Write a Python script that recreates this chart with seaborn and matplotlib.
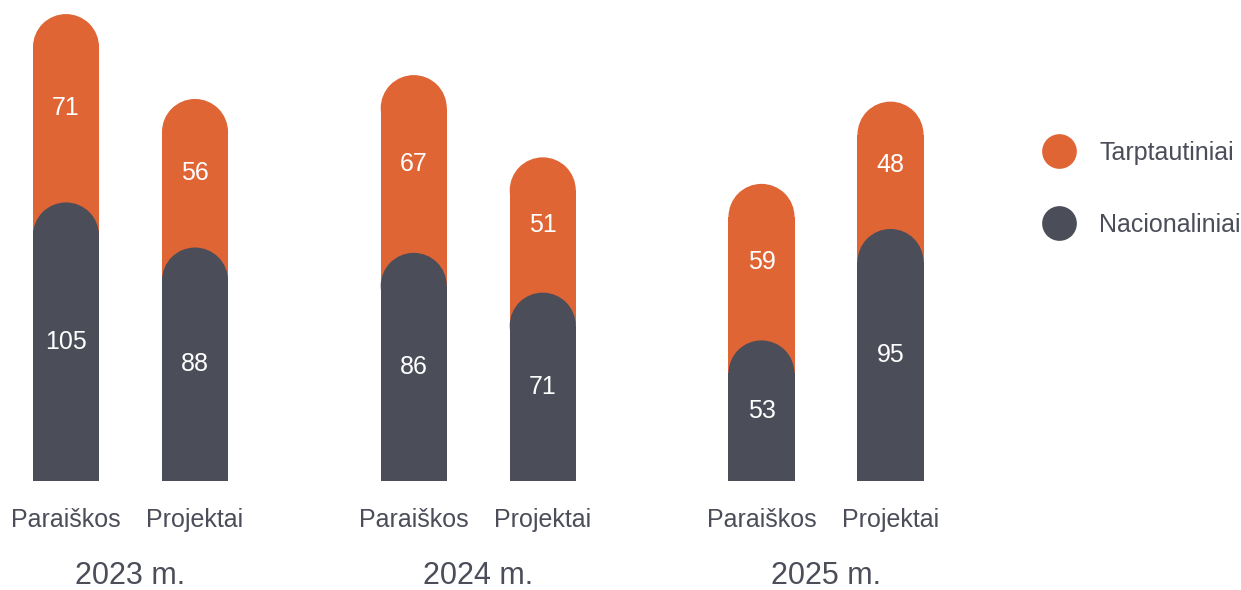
import pandas as pd
import numpy as np
import matplotlib.pyplot as plt
import seaborn as sns
from matplotlib.patches import Ellipse, Rectangle
from matplotlib.lines import Line2D

# Data
years = ['2023 m.', '2024 m.', '2025 m.']
types = ['Paraiškos', 'Projektai']
nacionaliniai = [105, 88, 86, 71, 53, 95]
tarptautiniai = [71, 56, 67, 51, 59, 48]

orange = '#E06535'
dark = '#4B4D59'

df = pd.DataFrame({
    'year': np.repeat(years, 2),
    'type': types * 3,
    'national': nacionaliniai,
    'intl': tarptautiniai,
})
df['total'] = df['national'] + df['intl']

sns.set_style('white')
plt.rcParams['font.family'] = ['Liberation Sans', 'DejaVu Sans']

fig = plt.figure(figsize=(12.41, 5.9), dpi=100)
ax = fig.add_axes([0, 109 / 590, 1, 481 / 590])

px_per_y = 2.653
px_per_x = 347.75
ylim_top = 481 / px_per_y
ax.set_ylim(0, ylim_top)

# Orange = total (stacked look), dark = national on top of it
sns.barplot(data=df, x='year', y='total', hue='type', palette={t: orange for t in types},
            width=0.742, gap=0.488, saturation=1, linewidth=0, legend=False, ax=ax, zorder=1)
n_orange = len(ax.patches)
sns.barplot(data=df, x='year', y='national', hue='type', palette={t: dark for t in types},
            width=0.742, gap=0.488, saturation=1, linewidth=0, legend=False, ax=ax, zorder=2)

ax.set_xlim(-130.5 / px_per_x, (1241 - 130.5) / px_per_x)
ax.set_ylim(0, ylim_top)

bars = [p for p in ax.patches if isinstance(p, Rectangle)]
ry = 33 / px_per_y

# Round the tops: shorten the rectangle and put a half-ellipse cap on it
for i, p in enumerate(bars):
    x, w, h = p.get_x(), p.get_width(), p.get_height()
    if h <= 0:
        continue
    z = 1 if i < n_orange else 2
    p.set_height(h - ry)
    p.set_zorder(z)
    ax.add_patch(Ellipse((x + w / 2, h - ry), w, 2 * ry, facecolor=p.get_facecolor(),
                         edgecolor='none', zorder=z))

orange_bars = bars[:n_orange]
dark_bars = bars[n_orange:]
orange_bars = sorted(orange_bars, key=lambda b: b.get_x())
dark_bars = sorted(dark_bars, key=lambda b: b.get_x())

for i, (ob, db) in enumerate(zip(orange_bars, dark_bars)):
    cx = ob.get_x() + ob.get_width() / 2
    nat = nacionaliniai[i]
    tot = nat + tarptautiniai[i]
    ax.text(cx, nat / 2, str(nat), ha='center', va='center', color='white', fontsize=18, zorder=5)
    ax.text(cx, (nat + tot) / 2, str(tarptautiniai[i]), ha='center', va='center',
            color='white', fontsize=18, zorder=5)
    ax.text(cx, -39 / px_per_y, types[i % 2], ha='center', va='center', color=dark,
            fontsize=18, clip_on=False)

for j, yr in enumerate(years):
    ax.text(j, -95 / px_per_y, yr, ha='center', va='center', color=dark, fontsize=22,
            clip_on=False)

ax.set_xticks([])
ax.set_yticks([])
ax.set_xlabel('')
ax.set_ylabel('')
sns.despine(ax=ax, left=True, bottom=True)

handles = [
    Line2D([], [], marker='o', linestyle='none', markersize=25, markerfacecolor=orange,
           markeredgewidth=0, label='Tarptautiniai'),
    Line2D([], [], marker='o', linestyle='none', markersize=25, markerfacecolor=dark,
           markeredgewidth=0, label='Nacionaliniai'),
]
leg = fig.legend(handles=handles, loc='center left', bbox_to_anchor=(1034 / 1241, 1 - 189 / 590),
                 frameon=False, fontsize=18, labelspacing=1.9, handletextpad=1.0,
                 handlelength=1.2, borderaxespad=0)
for t in leg.get_texts():
    t.set_color(dark)

fig.savefig('out.png', dpi=100)
